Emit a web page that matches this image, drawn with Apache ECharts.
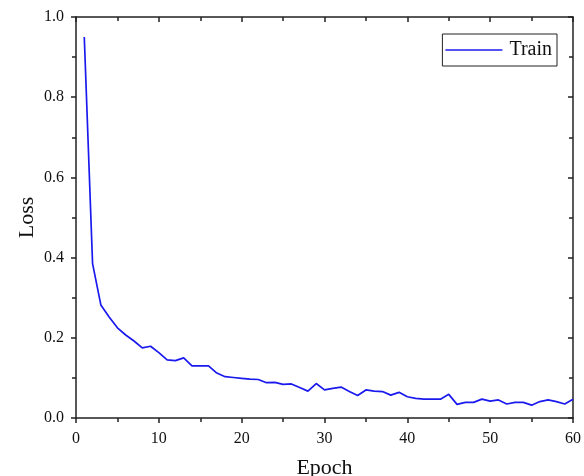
<!DOCTYPE html>
<html>
<head>
<meta charset="utf-8">
<script src="https://cdn.jsdelivr.net/npm/echarts@6/dist/echarts.min.js"></script>
<style>
  html, body { margin: 0; padding: 0; background: #fff; }
  #chart { width: 584px; height: 476px; }
</style>
</head>
<body>
<div id="chart"></div>
<script>
// Training loss per epoch
const epochs = [1,2,3,4,5,6,7,8,9,10,11,12,13,14,15,16,17,18,19,20,
  21,22,23,24,25,26,27,28,29,30,31,32,33,34,35,36,37,38,39,40,
  41,42,43,44,45,46,47,48,49,50,51,52,53,54,55,56,57,58,59,60];
const trainLoss = [0.950,0.385,0.282,0.252,0.225,0.207,0.192,0.175,0.179,0.163,
  0.145,0.143,0.150,0.130,0.130,0.130,0.112,0.103,0.101,0.099,
  0.097,0.096,0.088,0.089,0.084,0.085,0.076,0.067,0.086,0.070,
  0.074,0.077,0.066,0.056,0.070,0.067,0.066,0.057,0.064,0.053,
  0.049,0.047,0.047,0.047,0.059,0.034,0.039,0.039,0.047,0.042,
  0.045,0.035,0.039,0.039,0.032,0.041,0.045,0.041,0.035,0.047];
const xTicks = { min: 0, max: 60, interval: 10 };
const yTicks = { min: 0, max: 1, interval: 0.2 };

const font = 'Liberation Serif, Times New Roman, serif';
const axisColor = '#222';

function frameAxis(extra) {
  return Object.assign({
    type: 'value',
    axisLine: { show: true, onZero: false, lineStyle: { color: axisColor, width: 1.5 } },
    axisTick: { show: true, length: 5, lineStyle: { color: axisColor, width: 1.5 } },
    minorTick: { show: true, splitNumber: 2, length: 4, lineStyle: { color: axisColor, width: 1.5 } },
    splitLine: { show: false },
    minorSplitLine: { show: false }
  }, extra);
}

const chart = echarts.init(document.getElementById('chart'), null, { renderer: 'canvas' });
chart.setOption({
  backgroundColor: '#fff',
  animation: false,
  grid: { left: 76, top: 17, right: 11, bottom: 58, containLabel: false, outerBoundsMode: 'none' },
  legend: {
    data: ['Train'],
    right: 27,
    top: 34,
    orient: 'vertical',
    borderColor: '#222',
    borderWidth: 1,
    padding: [6, 5, 6, 3],
    itemWidth: 57,
    itemHeight: 1.5,
    icon: 'rect',
    textStyle: { fontFamily: font, fontSize: 20, color: '#111', padding: [0, 0, 0, 2] }
  },
  xAxis: [
    frameAxis(Object.assign({
      position: 'bottom',
      name: 'Epoch',
      nameLocation: 'middle',
      nameGap: 39,
      nameMoveOverlap: false,
      nameTextStyle: { fontFamily: font, fontSize: 22, color: '#111' },
      axisLabel: { show: true, fontFamily: font, fontSize: 16, color: '#111', margin: 13 }
    }, xTicks)),
    frameAxis(Object.assign({
      position: 'top',
      axisLabel: { show: false },
      axisTick: { show: true, inside: true, length: 5, lineStyle: { color: axisColor, width: 1.5 } },
      minorTick: { show: true, splitNumber: 2, length: 4, lineStyle: { color: axisColor, width: 1.5 } }
    }, xTicks))
  ],
  yAxis: [
    frameAxis(Object.assign({
      position: 'left',
      name: 'Loss',
      nameLocation: 'middle',
      nameGap: 38,
      nameMoveOverlap: false,
      nameTextStyle: { fontFamily: font, fontSize: 22, color: '#111' },
      axisLabel: {
        show: true, fontFamily: font, fontSize: 16, color: '#111', margin: 12,
        formatter: v => v.toFixed(1)
      }
    }, yTicks)),
    frameAxis(Object.assign({
      position: 'right',
      axisLabel: { show: false },
      axisTick: { show: true, inside: true, length: 5, lineStyle: { color: axisColor, width: 1.5 } },
      minorTick: { show: true, splitNumber: 2, length: 4, lineStyle: { color: axisColor, width: 1.5 } }
    }, yTicks))
  ],
  series: [{
    name: 'Train',
    type: 'line',
    xAxisIndex: 0,
    yAxisIndex: 0,
    data: epochs.map((e, i) => [e, trainLoss[i]]),
    showSymbol: false,
    symbol: 'none',
    lineStyle: { color: '#1a1aee', width: 1.7 },
    itemStyle: { color: '#1a1aee' }
  }]
});
</script>
</body>
</html>
